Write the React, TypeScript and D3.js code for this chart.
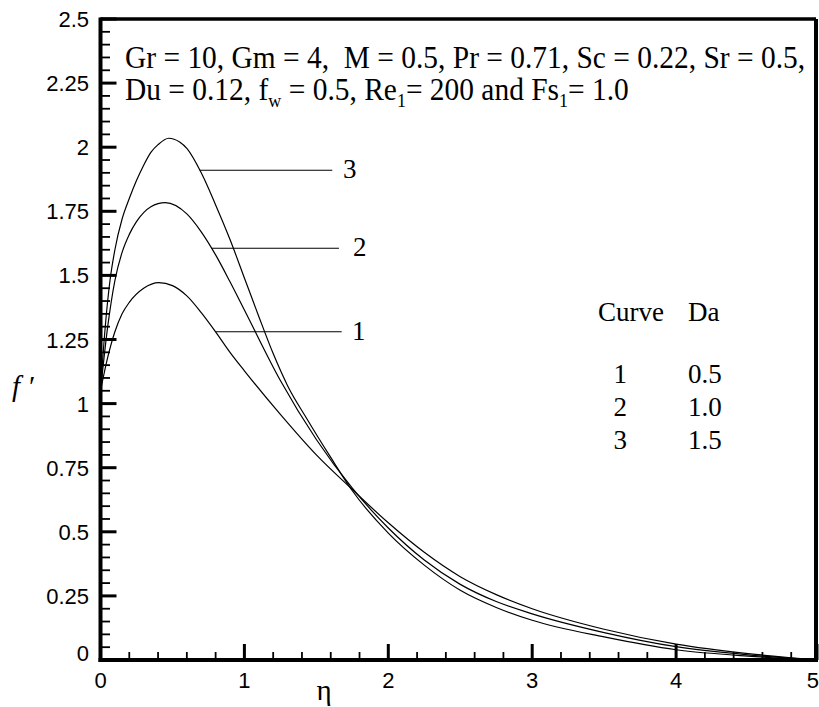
import React from "react";
import * as d3 from "d3";

// ---- data ----
const eta1 = [0, 0.05, 0.1, 0.15, 0.2, 0.3, 0.405, 0.5, 0.6, 0.7, 0.8, 0.9, 1.0, 1.25, 1.5, 1.75, 2.0, 2.25, 2.5, 2.75, 3.0, 3.5, 4.0, 4.5, 5.0];
const f1 = [1.05, 1.18, 1.28, 1.35, 1.395, 1.45, 1.472, 1.46, 1.42, 1.355, 1.28, 1.2, 1.128, 0.958, 0.8, 0.665, 0.535, 0.42, 0.325, 0.255, 0.2, 0.12, 0.062, 0.025, 0.0];

const eta2 = [0, 0.05, 0.1, 0.15, 0.2, 0.25, 0.3, 0.35, 0.45, 0.6, 0.7, 0.8, 0.9, 1.0, 1.25, 1.5, 1.75, 2.0, 2.25, 2.5, 2.75, 3.0, 3.5, 4.0, 4.5, 5.0];
const f2 = [1.05, 1.3, 1.48, 1.59, 1.66, 1.71, 1.745, 1.768, 1.784, 1.74, 1.67, 1.58, 1.475, 1.365, 1.09, 0.86, 0.67, 0.515, 0.39, 0.295, 0.228, 0.18, 0.107, 0.052, 0.02, 0.0];

const eta3 = [0, 0.033, 0.066, 0.1, 0.15, 0.2, 0.25, 0.3, 0.35, 0.4, 0.474, 0.55, 0.6, 0.7, 0.8, 0.9, 1.0, 1.1, 1.2, 1.3, 1.435, 1.6, 1.75, 2.0, 2.25, 2.5, 2.75, 3.0, 3.5, 4.0, 4.5, 5.0];
const f3 = [1.05, 1.3, 1.48, 1.6, 1.72, 1.8, 1.87, 1.93, 1.98, 2.01, 2.035, 2.02, 1.995, 1.9, 1.775, 1.64, 1.49, 1.34, 1.195, 1.07, 0.94, 0.79, 0.66, 0.495, 0.37, 0.272, 0.205, 0.155, 0.09, 0.04, 0.015, 0.0];

const curveNames = ["1", "2", "3"];
const daValues = ["0.5", "1.0", "1.5"];
const leaderValue = [1.28, 1.606, 1.91];
const leaderEndEta = [1.676, 1.657, 1.611];
const labelEta = [1.748, 1.755, 1.685];

const xMajorTicks = [0, 1, 2, 3, 4, 5];
const yMajorTicks = [0, 0.25, 0.5, 0.75, 1, 1.25, 1.5, 1.75, 2, 2.25, 2.5];
const yTickLabels = ["0", "0.25", "0.5", "0.75", "1", "1.25", "1.5", "1.75", "2", "2.25", "2.5"];

// eta where a curve passes downward through a value, after its peak
function descendingEta(etas: number[], vals: number[], target: number): number {
  const peak = d3.maxIndex(vals);
  for (let i = peak; i < vals.length - 1; i++) {
    if (vals[i] >= target && vals[i + 1] <= target) {
      const t = (vals[i] - target) / (vals[i] - vals[i + 1]);
      return etas[i] + t * (etas[i + 1] - etas[i]);
    }
  }
  return etas[peak];
}

export default function App() {
  const W = 819, H = 707;
  const left = 100.5, right = 816, top = 19, bottom = 660;
  const x = d3.scaleLinear().domain([0, 5]).range([100.5, 820]);
  const y = d3.scaleLinear().domain([0, 2.5]).range([660, 19]);

  const line = d3
    .line<[number, number]>()
    .x((d) => x(d[0]))
    .y((d) => y(d[1]))
    .curve(d3.curveMonotoneX);

  const etas = [eta1, eta2, eta3];
  const vals = [f1, f2, f3];
  const series = etas.map((e, k) => e.map((v, i) => [v, vals[k][i]] as [number, number]));

  const xMinor = d3.range(0, 5.0001, 0.2).filter((v) => Math.abs(v - Math.round(v)) > 1e-6);
  const yMinor = d3.range(0, 2.5001, 0.05).filter((v) => Math.abs(v * 4 - Math.round(v * 4)) > 1e-6);

  const sans = "'Liberation Sans', Arial, sans-serif";
  const serif = "'Liberation Serif', 'Times New Roman', serif";

  return (
    <svg width={W} height={H} style={{ position: "absolute", left: 0, top: 0, background: "#fff" }}>
      <rect x={0} y={0} width={W} height={H} fill="#fff" />
      <defs>
        <clipPath id="plotclip">
          <rect x={left} y={top} width={right - left} height={bottom - top} />
        </clipPath>
      </defs>

      {/* curves */}
      <g clipPath="url(#plotclip)">
        {series.map((s, i) => (
          <path key={i} d={line(s) || ""} fill="none" stroke="#000" strokeWidth={1.2} />
        ))}
      </g>

      {/* leader lines and curve labels */}
      {curveNames.map((n, i) => (
        <g key={n}>
          <line
            x1={x(descendingEta(etas[i], vals[i], leaderValue[i]))}
            x2={x(leaderEndEta[i])}
            y1={y(leaderValue[i])}
            y2={y(leaderValue[i])}
            stroke="#000"
            strokeWidth={1.1}
          />
          <text x={x(labelEta[i])} y={y(leaderValue[i]) + 8} fontFamily={serif} fontSize={27} fill="#000">
            {n}
          </text>
        </g>
      ))}

      {/* frame */}
      <line x1={left} x2={right} y1={top} y2={top} stroke="#000" strokeWidth={3.5} />
      <line x1={right} x2={right} y1={top} y2={bottom} stroke="#000" strokeWidth={4} />
      <line x1={left} x2={left} y1={top - 1.5} y2={bottom + 2} stroke="#000" strokeWidth={4} />
      <line x1={left - 2} x2={right + 2} y1={bottom} y2={bottom} stroke="#000" strokeWidth={4} />

      {/* x ticks */}
      {xMajorTicks.map((t) => (
        <g key={"xm" + t}>
          <line x1={x(t)} x2={x(t)} y1={bottom} y2={bottom - 16} stroke="#000" strokeWidth={3} />
          <text
            x={t === 5 ? 819 : x(t)}
            y={688}
            textAnchor={t === 5 ? "end" : "middle"}
            fontFamily={sans}
            fontSize={22}
            fill="#000"
          >
            {t}
          </text>
        </g>
      ))}
      {xMinor.map((t) => (
        <line key={"xn" + t} x1={x(t)} x2={x(t)} y1={bottom} y2={bottom - 8} stroke="#000" strokeWidth={1.8} />
      ))}

      {/* y ticks */}
      {yMajorTicks.map((t, i) => (
        <g key={"ym" + t}>
          <line x1={left} x2={left + 16} y1={y(t)} y2={y(t)} stroke="#000" strokeWidth={3} />
          <text x={89} y={y(t) + (t === 0 ? 1 : 8)} textAnchor="end" fontFamily={sans} fontSize={22} fill="#000">
            {yTickLabels[i]}
          </text>
        </g>
      ))}
      {yMinor.map((t) => (
        <line key={"yn" + t} x1={left} x2={left + 9.5} y1={y(t)} y2={y(t)} stroke="#000" strokeWidth={1.8} />
      ))}

      {/* axis titles */}
      <text x={324} y={700} textAnchor="middle" fontFamily={serif} fontSize={29} fill="#000">
        η
      </text>
      <text x={12} y={396} fontFamily={serif} fontStyle="italic" fontSize={29} fill="#000">
        f ′
      </text>

      {/* annotation */}
      <g transform="translate(125,0) scale(0.95,1)">
        <text x={0} y={68} fontFamily={serif} fontSize={31} fill="#000" style={{ whiteSpace: "pre" }}>
          {"Gr = 10, Gm = 4,  M = 0.5, Pr = 0.71, Sc = 0.22, Sr = 0.5,"}
        </text>
        <text x={0} y={100} fontFamily={serif} fontSize={31} fill="#000" style={{ whiteSpace: "pre" }}>
          <tspan>{"Du = 0.12, f"}</tspan>
          <tspan fontSize={19} dy={7}>w</tspan>
          <tspan dy={-7}>{" = 0.5, Re"}</tspan>
          <tspan fontSize={19} dy={7}>1</tspan>
          <tspan dy={-7}>{"= 200 and Fs"}</tspan>
          <tspan fontSize={19} dy={7}>1</tspan>
          <tspan dy={-7}>{"= 1.0"}</tspan>
        </text>
      </g>

      {/* legend */}
      <text x={664} y={321} textAnchor="end" fontFamily={serif} fontSize={27} fill="#000">
        Curve
      </text>
      <text x={688} y={321} fontFamily={serif} fontSize={27} fill="#000">
        Da
      </text>
      {curveNames.map((n, i) => (
        <g key={"lg" + n}>
          <text x={627} y={383 + i * 33} textAnchor="end" fontFamily={serif} fontSize={27} fill="#000">
            {n}
          </text>
          <text x={688} y={383 + i * 33} fontFamily={serif} fontSize={27} fill="#000">
            {daValues[i]}
          </text>
        </g>
      ))}
    </svg>
  );
}
